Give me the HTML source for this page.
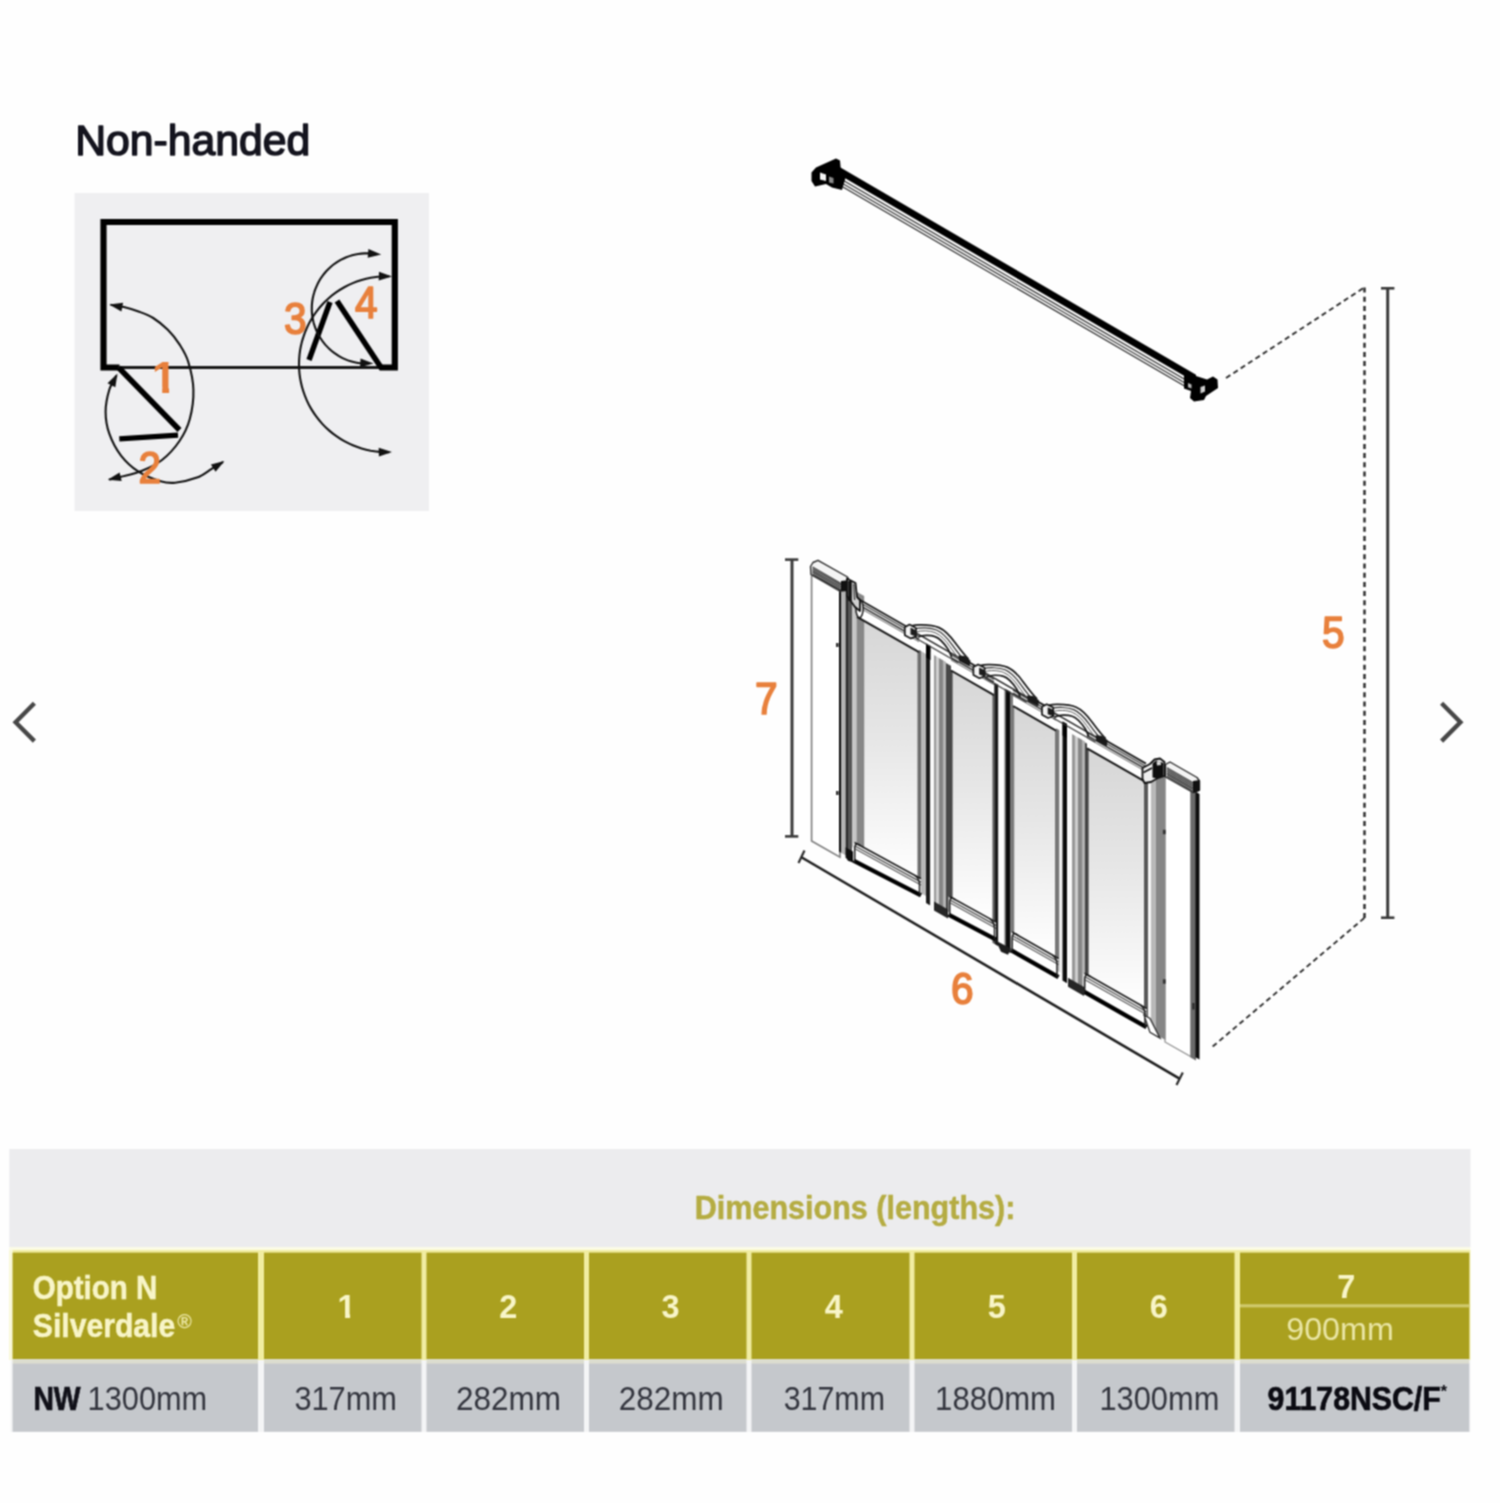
<!DOCTYPE html>
<html lang="en">
<head>
<meta charset="utf-8">
<title>Option N Silverdale - Non-handed dimensions</title>
<style>
html,body{margin:0;padding:0;background:#fefefe;}
body{width:1500px;height:1503px;overflow:hidden;position:relative;font-family:"Liberation Sans",sans-serif;}
svg{position:absolute;left:0;top:0;display:block;}
svg text{font-family:"Liberation Sans",sans-serif;}
</style>
</head>
<body>
<svg width="1500" height="1503" viewBox="0 0 1500 1503">
<defs>
<linearGradient id="glass" x1="0" y1="0" x2="0" y2="1">
<stop offset="0" stop-color="#d6d6d6"/>
<stop offset="0.45" stop-color="#e6e6e6"/>
<stop offset="0.85" stop-color="#f8f8f8"/>
<stop offset="1" stop-color="#ffffff"/>
</linearGradient>
<filter id="soft" filterUnits="userSpaceOnUse" x="0" y="0" width="1500" height="1503" color-interpolation-filters="sRGB"><feConvolveMatrix order="3" kernelMatrix="1 2 1 2 4 2 1 2 1" edgeMode="duplicate" preserveAlpha="true"/></filter>
</defs>
<g filter="url(#soft)">
<rect x="0" y="0" width="1500" height="1503" fill="#fefefe"/>
<!-- title -->
<text x="75.2" y="154.6" font-size="42.5" fill="#14141e" font-weight="normal" text-anchor="start" textLength="235.2" lengthAdjust="spacingAndGlyphs" stroke="#14141e" stroke-width="1.5" stroke-linejoin="round">Non-handed</text>
<!-- plan view -->
<rect x="74.5" y="193" width="354.5" height="318" fill="#efeff1"/>
<path d="M119.5,367.5 H103.5 V222 H394.8 V367.5 H380" fill="none" stroke="#000" stroke-width="6.2" stroke-linejoin="miter"/>
<line x1="118" y1="367.6" x2="381" y2="367.6" stroke="#181818" stroke-width="3" />
<line x1="118.8" y1="367.8" x2="179.5" y2="430" stroke="#000" stroke-width="5.6" />
<line x1="119.3" y1="438.8" x2="178" y2="435.2" stroke="#000" stroke-width="5.2" />
<line x1="309" y1="360" x2="330" y2="302" stroke="#000" stroke-width="5.4" />
<line x1="337" y1="301" x2="382" y2="369" stroke="#000" stroke-width="5.6" />
<path d="M110.5,304.8 C112.7,305.2 119.2,306 123.9,307.1 C128.6,308.2 133.6,309.7 138.5,311.5 C143.4,313.3 148.3,314.9 153.2,318 C158.1,321.1 163.4,325.4 167.8,329.8 C172.2,334.2 176.1,339 179.5,344.4 C182.9,349.8 186,354.4 188.3,362 C190.6,369.6 193.2,380.3 193.4,389.8 C193.7,399.3 192.1,410.5 189.8,419 C187.5,427.5 184.1,434.2 179.5,441 C174.9,447.8 168.3,455 162,460 C155.7,465 148.3,468.2 141.5,471 C134.7,473.8 126.4,475.4 121,476.8 C115.6,478.2 111,479.1 109,479.6" fill="none" stroke="#111" stroke-width="2.1"/>
<polygon points="109.3,304.6 123.1,302.8 121.4,311.4" fill="#111" stroke="none" stroke-width="1" />
<polygon points="107.8,479.8 119.6,472.4 121.7,481" fill="#111" stroke="none" stroke-width="1" />
<path d="M116.5,375.5 C115.3,377.9 111.1,383.8 109.3,389.8 C107.5,395.8 105.6,404.4 105.6,411.7 C105.6,419 106.7,426.4 109.3,433.7 C111.9,441 116.1,449.3 121,455.6 C125.9,461.9 131.9,467.4 138.5,471.7 C145.1,476 154.4,479.4 160.5,481.2 C166.6,483 169,483.3 175.1,482.7 C181.2,482.1 190.9,479.9 197,477.6 C203.1,475.3 207.4,471.4 211.7,468.8 C216,466.2 221.1,463.1 223,462" fill="none" stroke="#111" stroke-width="2.1"/>
<polygon points="117.5,373.5 115.3,387.2 107.5,383.2" fill="#111" stroke="none" stroke-width="1" />
<polygon points="224.4,461 215.6,471.8 210.9,464.4" fill="#111" stroke="none" stroke-width="1" />
<path d="M376.6,254.1 C375.6,254 372.5,253.5 370.5,253.4 C368.4,253.3 366.4,253.3 364.3,253.4 C362.3,253.5 360.2,253.7 358.2,254 C356.1,254.3 354.1,254.8 352.2,255.3 C350.2,255.9 348.2,256.6 346.3,257.3 C344.4,258.1 342.5,259 340.7,259.9 C338.9,260.9 337.2,262 335.5,263.2 C333.8,264.3 332.2,265.6 330.6,267 C329.1,268.3 327.6,269.8 326.2,271.3 C324.9,272.8 323.5,274.4 322.3,276.1 C321.1,277.7 320,279.5 319,281.2 C318,283 317.1,284.9 316.3,286.8 C315.5,288.6 314.7,290.6 314.2,292.5 C313.6,294.5 313.1,296.5 312.7,298.5 C312.3,300.6 312.1,302.6 311.9,304.6 C311.8,306.7 311.8,308.8 311.8,310.8 C311.9,312.9 312.1,314.9 312.4,316.9 C312.8,319 313.2,321 313.7,323 C314.3,325 314.9,326.9 315.7,328.8 C316.4,330.7 317.3,332.6 318.3,334.4 C319.2,336.2 320.3,338 321.5,339.7 C322.6,341.4 323.9,343 325.2,344.6 C326.6,346.1 328,347.6 329.5,349 C331,350.4 332.6,351.7 334.2,352.9 C335.9,354.1 337.6,355.3 339.4,356.3 C341.2,357.3 343,358.3 344.9,359.1 C346.8,359.9 348.7,360.6 350.7,361.2 C352.6,361.8 354.6,362.3 356.7,362.7 C358.7,363.1 360.7,363.4 362.8,363.5 C364.8,363.7 367.9,363.6 368.9,363.7" fill="none" stroke="#111" stroke-width="2.1"/>
<polygon points="381.2,254.4 367.7,257.8 368.4,249" fill="#111" stroke="none" stroke-width="1" />
<polygon points="373.5,363.4 360.1,367.2 360.5,358.4" fill="#111" stroke="none" stroke-width="1" />
<path d="M389.3,276.2 C387.7,276.3 383,276.2 379.9,276.5 C376.8,276.7 373.7,277.2 370.7,277.7 C367.6,278.3 364.5,279.1 361.6,280 C358.6,280.9 355.6,281.9 352.8,283.1 C349.9,284.3 347.1,285.7 344.3,287.2 C341.6,288.7 338.9,290.4 336.4,292.2 C333.8,294 331.4,295.9 329,298 C326.7,300 324.4,302.2 322.3,304.5 C320.2,306.8 318.2,309.2 316.4,311.7 C314.5,314.2 312.8,316.9 311.2,319.5 C309.6,322.2 308.1,325 306.9,327.8 C305.6,330.7 304.4,333.6 303.5,336.6 C302.5,339.5 301.6,342.6 301,345.6 C300.3,348.7 299.8,351.7 299.5,354.8 C299.2,357.9 299,361.1 299,364.2 C299,367.3 299.2,370.5 299.5,373.6 C299.8,376.7 300.3,379.7 301,382.8 C301.6,385.8 302.5,388.9 303.5,391.8 C304.4,394.8 305.6,397.7 306.9,400.6 C308.1,403.4 309.6,406.2 311.2,408.9 C312.8,411.5 314.5,414.2 316.4,416.7 C318.2,419.2 320.2,421.6 322.3,423.9 C324.4,426.2 326.7,428.4 329,430.4 C331.4,432.5 333.8,434.4 336.4,436.2 C338.9,438 341.6,439.7 344.3,441.2 C347.1,442.7 349.9,444.1 352.8,445.3 C355.6,446.5 358.6,447.5 361.6,448.4 C364.5,449.3 367.6,450.1 370.7,450.7 C373.7,451.2 376.8,451.7 379.9,451.9 C383,452.2 387.7,452.1 389.3,452.2" fill="none" stroke="#111" stroke-width="2.1"/>
<polygon points="392,276.6 378.7,280.6 379,271.8" fill="#111" stroke="none" stroke-width="1" />
<polygon points="392,452 378.9,456.6 378.7,447.8" fill="#111" stroke="none" stroke-width="1" />
<clipPath id="one1"><polygon points="148.8,347.8 169.1,347.8 169.1,394.8 162.2,394.8 162.2,387 148.8,387"/></clipPath>
<text x="151.8" y="392.8" font-size="45" fill="#e8803c" font-weight="bold" clip-path="url(#one1)">1</text>
<text x="138.4" y="483.3" font-size="44.6" fill="#e8803c" font-weight="normal" text-anchor="start" textLength="22.6" lengthAdjust="spacingAndGlyphs" stroke="#e8803c" stroke-width="1.7" stroke-linejoin="round">2</text>
<text x="283.9" y="333.8" font-size="44.6" fill="#e8803c" font-weight="normal" text-anchor="start" textLength="22.6" lengthAdjust="spacingAndGlyphs" stroke="#e8803c" stroke-width="1.7" stroke-linejoin="round">3</text>
<text x="354.9" y="318" font-size="44.6" fill="#e8803c" font-weight="normal" text-anchor="start" textLength="22.6" lengthAdjust="spacingAndGlyphs" stroke="#e8803c" stroke-width="1.7" stroke-linejoin="round">4</text>
<!-- rail -->
<line x1="843" y1="180.3" x2="1188" y2="381.3" stroke="#2a2a2a" stroke-width="1.2" />
<line x1="843" y1="183.7" x2="1188" y2="384.7" stroke="#333" stroke-width="1.2" />
<line x1="843" y1="187.1" x2="1188" y2="388.1" stroke="#2a2a2a" stroke-width="1.2" />
<polygon points="837,165.5 1196,374.7 1196,382.7 837,173.5" fill="#000" stroke="none" stroke-width="1" />
<polygon points="836,158.5 840,160.5 841,172 846,176 842,190 832,187.5 826,184 815,186.5 811.5,181 811.5,172.5 816,167.5" fill="#000" stroke="none" stroke-width="1" />
<polygon points="820,172.5 826,174.5 826,181 820,179.5" fill="#f4f4f4" stroke="none" stroke-width="1" />
<polygon points="829,176.5 833.5,178 833.5,183.5 829,182.5" fill="#8a8a8a" stroke="none" stroke-width="1" />
<polygon points="1184,370 1196,376 1207,379.5 1213,376.5 1217.5,379.5 1218,388 1206,396 1204,400 1194,401.5 1190,398 1191,391 1184,388.5" fill="#000" stroke="none" stroke-width="1" />
<polygon points="1188,383 1191.5,384.5 1191.5,388.5 1188,387.2" fill="#bbb" stroke="none" stroke-width="1" />
<polygon points="1200.5,387 1205,385.5 1205,391.5 1200.5,393.5" fill="#d0d0d0" stroke="none" stroke-width="1" />
<path d="M1226,378 L1364.3,287.5" fill="none" stroke="#2e2e2e" stroke-width="1.9" stroke-dasharray="5.2 3.6"/>
<path d="M1364.5,287.5 V918" fill="none" stroke="#2e2e2e" stroke-width="2.5" stroke-dasharray="5 4.2"/>
<path d="M1364.3,918 L1211,1048" fill="none" stroke="#2e2e2e" stroke-width="1.9" stroke-dasharray="5.2 3.6"/>
<line x1="1387.7" y1="288" x2="1387.7" y2="918" stroke="#3a3a3a" stroke-width="3" />
<line x1="1381" y1="288.3" x2="1394.4" y2="288.3" stroke="#3a3a3a" stroke-width="2.6" />
<line x1="1381" y1="917.7" x2="1394.4" y2="917.7" stroke="#3a3a3a" stroke-width="2.6" />
<text x="1321.9" y="648.3" font-size="44.6" fill="#e8803c" font-weight="normal" text-anchor="start" textLength="22.6" lengthAdjust="spacingAndGlyphs" stroke="#e8803c" stroke-width="1.7" stroke-linejoin="round">5</text>
<!-- shower door panel -->
<polygon points="811.6,573.5 840,589.7 840,857.1 811.6,841" fill="#fff" stroke="#7d7d7d" stroke-width="1.6" />
<polygon points="1165,776.1 1191,791 1191,1056.7 1165,1041.9" fill="#fff" stroke="#8a8a8a" stroke-width="1.2" />
<polygon points="1190.5,788.7 1196,791.9 1196,1060.5 1190.5,1057.4" fill="#6a6a6a" stroke="none" stroke-width="1" />
<polygon points="1195.5,791.6 1199.5,793.9 1199.5,1059.5 1195.5,1057.2" fill="#0c0c0c" stroke="none" stroke-width="1" />
<polygon points="864,620.8 918.5,651.9 918.5,880.4 864,849.4" fill="url(#glass)"/>
<polygon points="952,671.1 993.5,694.8 993.5,923 952,899.4" fill="url(#glass)"/>
<polygon points="1013.5,706.3 1055.5,730.3 1055.5,958.3 1013.5,934.4" fill="url(#glass)"/>
<polygon points="1088,748.9 1144.5,781.2 1144.5,1008.9 1088,976.7" fill="url(#glass)"/>
<polygon points="839,581.7 841.4,583 841.4,852.9 839,851.6" fill="#0a0a0a" stroke="none" stroke-width="1" />
<polygon points="841.4,583 845.6,585.4 845.6,855.3 841.4,852.9" fill="#b4b4b4" stroke="none" stroke-width="1" />
<polygon points="845.6,585.4 848,586.8 848,856.7 845.6,855.3" fill="#2a2a2a" stroke="none" stroke-width="1" />
<polygon points="848,586.8 852,589.1 852,859 848,856.7" fill="#555" stroke="none" stroke-width="1" />
<polygon points="852,589.1 856.5,591.7 856.5,849.5 852,847" fill="#c6c6c6" stroke="none" stroke-width="1" />
<polygon points="856.5,591.7 864.2,596.1 864.2,851.9 856.5,847.5" fill="#878787" stroke="none" stroke-width="1" />
<polygon points="917.5,649.1 921,651.1 921,893.2 917.5,891.2" fill="#6c6c6c" stroke="none" stroke-width="1" />
<polygon points="921,651.1 926,653.9 926,896 921,893.2" fill="#b8b8b8" stroke="none" stroke-width="1" />
<polygon points="926,643.4 930.3,645.9 930.3,905.5 926,903" fill="#1c1c1c" stroke="none" stroke-width="1" />
<polygon points="930.3,651.9 934,654 934,909.6 930.3,907.5" fill="#fafafa" stroke="none" stroke-width="1" />
<polygon points="934,655 936.5,656.4 936.5,911 934,909.6" fill="#999" stroke="none" stroke-width="1" />
<polygon points="936.5,656.4 939,657.9 939,912.4 936.5,911" fill="#cfcfcf" stroke="none" stroke-width="1" />
<polygon points="939,657.9 943,660.2 943,914.7 939,912.4" fill="#858585" stroke="none" stroke-width="1" />
<polygon points="943,660.2 946,661.9 946,916.4 943,914.7" fill="#b4b4b4" stroke="none" stroke-width="1" />
<polygon points="946,662.9 952.6,666.7 952.6,914.2 946,910.4" fill="#474747" stroke="none" stroke-width="1" />
<polygon points="992.5,681.5 995,682.9 995,944.3 992.5,942.8" fill="#555" stroke="none" stroke-width="1" />
<polygon points="995,682.9 998.4,684.8 998.4,946.2 995,944.3" fill="#1a1a1a" stroke="none" stroke-width="1" />
<polygon points="998.4,684.8 1004.5,688.3 1004.5,949.7 998.4,946.2" fill="#fdfdfd" stroke="none" stroke-width="1" />
<polygon points="1004.5,688.3 1006,689.2 1006,950.5 1004.5,949.7" fill="#666" stroke="none" stroke-width="1" />
<polygon points="1006,689.2 1010.6,691.8 1010.6,953.1 1006,950.5" fill="#0c0c0c" stroke="none" stroke-width="1" />
<polygon points="1010.6,691.8 1014.2,693.9 1014.2,949.2 1010.6,947.1" fill="#7a7a7a" stroke="none" stroke-width="1" />
<polygon points="1055,727.7 1059.5,730.3 1059.5,971.9 1055,969.4" fill="#777" stroke="none" stroke-width="1" />
<polygon points="1059.5,730.3 1062.5,732 1062.5,973.6 1059.5,971.9" fill="#f4f4f4" stroke="none" stroke-width="1" />
<polygon points="1062.5,721.5 1067,724.1 1067,983.2 1062.5,980.6" fill="#0c0c0c" stroke="none" stroke-width="1" />
<polygon points="1067,730.1 1072,732.9 1072,988 1067,985.2" fill="#fafafa" stroke="none" stroke-width="1" />
<polygon points="1072,733.9 1075,735.7 1075,989.7 1072,988" fill="#989898" stroke="none" stroke-width="1" />
<polygon points="1075,735.7 1078,737.4 1078,991.4 1075,989.7" fill="#cdcdcd" stroke="none" stroke-width="1" />
<polygon points="1078,737.4 1082,739.7 1082,993.7 1078,991.4" fill="#868686" stroke="none" stroke-width="1" />
<polygon points="1082,739.7 1085,741.4 1085,995.4 1082,993.7" fill="#b2b2b2" stroke="none" stroke-width="1" />
<polygon points="1085,742.4 1088.6,744.4 1088.6,991.5 1085,989.4" fill="#444" stroke="none" stroke-width="1" />
<polygon points="1144,764.1 1148,766.4 1148,1025.2 1144,1023" fill="#585858" stroke="none" stroke-width="1" />
<polygon points="1148,766.4 1151,768.1 1151,1028.9 1148,1027.2" fill="#f6f6f6" stroke="none" stroke-width="1" />
<polygon points="1151,768.1 1156,771 1156,1034.8 1151,1031.9" fill="#b8b8b8" stroke="none" stroke-width="1" />
<polygon points="1156,771 1165.4,776.4 1165.4,1040.1 1156,1034.8" fill="#868686" stroke="none" stroke-width="1" />
<polygon points="857,598.3 919,633.7 919,652.2 857,616.8" fill="#fff" stroke="none" stroke-width="1" />
<line x1="857" y1="598.3" x2="919" y2="633.7" stroke="#1a1a1a" stroke-width="1.8" />
<line x1="857" y1="601.1" x2="919" y2="636.5" stroke="#3a3a3a" stroke-width="1.2" />
<line x1="857" y1="603.9" x2="919" y2="639.3" stroke="#2a2a2a" stroke-width="1.5" />
<line x1="857" y1="606.3" x2="919" y2="641.7" stroke="#666" stroke-width="1" />
<line x1="857" y1="616.8" x2="919" y2="652.2" stroke="#161616" stroke-width="2" />
<polygon points="951,652 994,676.6 994,695.1 951,670.5" fill="#fff" stroke="none" stroke-width="1" />
<line x1="951" y1="652" x2="994" y2="676.6" stroke="#1a1a1a" stroke-width="1.8" />
<line x1="951" y1="654.8" x2="994" y2="679.4" stroke="#3a3a3a" stroke-width="1.2" />
<line x1="951" y1="657.6" x2="994" y2="682.2" stroke="#2a2a2a" stroke-width="1.5" />
<line x1="951" y1="660" x2="994" y2="684.6" stroke="#666" stroke-width="1" />
<line x1="951" y1="670.5" x2="994" y2="695.1" stroke="#161616" stroke-width="2" />
<polygon points="1013,687.5 1056,712.1 1056,730.6 1013,706" fill="#fff" stroke="none" stroke-width="1" />
<line x1="1013" y1="687.5" x2="1056" y2="712.1" stroke="#1a1a1a" stroke-width="1.8" />
<line x1="1013" y1="690.3" x2="1056" y2="714.9" stroke="#3a3a3a" stroke-width="1.2" />
<line x1="1013" y1="693.1" x2="1056" y2="717.7" stroke="#2a2a2a" stroke-width="1.5" />
<line x1="1013" y1="695.5" x2="1056" y2="720.1" stroke="#666" stroke-width="1" />
<line x1="1013" y1="706" x2="1056" y2="730.6" stroke="#161616" stroke-width="2" />
<polygon points="1087,729.8 1146,763.6 1146,782.1 1087,748.3" fill="#fff" stroke="none" stroke-width="1" />
<line x1="1087" y1="729.8" x2="1146" y2="763.6" stroke="#1a1a1a" stroke-width="1.8" />
<line x1="1087" y1="732.6" x2="1146" y2="766.4" stroke="#3a3a3a" stroke-width="1.2" />
<line x1="1087" y1="735.4" x2="1146" y2="769.2" stroke="#2a2a2a" stroke-width="1.5" />
<line x1="1087" y1="737.8" x2="1146" y2="771.6" stroke="#666" stroke-width="1" />
<line x1="1087" y1="748.3" x2="1146" y2="782.1" stroke="#161616" stroke-width="2" />
<ellipse cx="859.5" cy="608.7" rx="3.6" ry="9" fill="#fff" stroke="#1a1a1a" stroke-width="1.5"/>
<polygon points="853.5,842.4 921,879.3 921,896.4 853.5,861.6" fill="#fff" stroke="none" stroke-width="1" />
<line x1="854.5" y1="842.5" x2="921" y2="878.8" stroke="#1c1c1c" stroke-width="1.6" />
<line x1="855.5" y1="846.3" x2="921" y2="882.1" stroke="#444" stroke-width="1.2" />
<line x1="855.5" y1="849.1" x2="921" y2="884.9" stroke="#555" stroke-width="1.1" />
<line x1="853.5" y1="860.6" x2="921" y2="895.4" stroke="#000" stroke-width="4.4" />
<path d="M915,875.5 Q919.5,879 919.5,884.5 V895.6" fill="none" stroke="#1c1c1c" stroke-width="1.5"/>
<path d="M860.5,845.7 Q854.7,841.1 854.7,849.1 V862.2" fill="none" stroke="#1c1c1c" stroke-width="1.5"/>
<polygon points="948.5,896.4 996,922.6 996,940.6 948.5,915.6" fill="#fff" stroke="none" stroke-width="1" />
<line x1="949.5" y1="896.5" x2="996" y2="922.1" stroke="#1c1c1c" stroke-width="1.6" />
<line x1="950.5" y1="900.3" x2="996" y2="925.4" stroke="#444" stroke-width="1.2" />
<line x1="950.5" y1="903.1" x2="996" y2="928.2" stroke="#555" stroke-width="1.1" />
<line x1="948.5" y1="914.6" x2="996" y2="939.6" stroke="#000" stroke-width="4.4" />
<path d="M990,918.8 Q994.5,922.3 994.5,927.8 V939.8" fill="none" stroke="#1c1c1c" stroke-width="1.5"/>
<path d="M955.5,899.8 Q949.7,895.1 949.7,903.1 V916.3" fill="none" stroke="#1c1c1c" stroke-width="1.5"/>
<polygon points="1011,932 1058.5,959 1058.5,978.2 1011,951.2" fill="#fff" stroke="none" stroke-width="1" />
<line x1="1012" y1="932" x2="1058.5" y2="958.5" stroke="#1c1c1c" stroke-width="1.6" />
<line x1="1013" y1="935.9" x2="1058.5" y2="961.8" stroke="#444" stroke-width="1.2" />
<line x1="1013" y1="938.7" x2="1058.5" y2="964.6" stroke="#555" stroke-width="1.1" />
<line x1="1011" y1="950.2" x2="1058.5" y2="977.2" stroke="#000" stroke-width="4.4" />
<path d="M1052.5,955.1 Q1057,958.6 1057,964.1 V977.3" fill="none" stroke="#1c1c1c" stroke-width="1.5"/>
<path d="M1018,935.4 Q1012.2,930.6 1012.2,938.6 V951.8" fill="none" stroke="#1c1c1c" stroke-width="1.5"/>
<polygon points="1083.5,973.2 1146.5,1009 1146.5,1028.2 1083.5,992.4" fill="#fff" stroke="none" stroke-width="1" />
<line x1="1084.5" y1="973.2" x2="1146.5" y2="1008.5" stroke="#1c1c1c" stroke-width="1.6" />
<line x1="1085.5" y1="977.1" x2="1146.5" y2="1011.8" stroke="#444" stroke-width="1.2" />
<line x1="1085.5" y1="979.9" x2="1146.5" y2="1014.6" stroke="#555" stroke-width="1.1" />
<line x1="1083.5" y1="991.4" x2="1146.5" y2="1027.2" stroke="#000" stroke-width="4.4" />
<path d="M1140.5,1005.1 Q1145,1008.6 1145,1014.1 V1027.3" fill="none" stroke="#1c1c1c" stroke-width="1.5"/>
<path d="M1090.5,976.7 Q1084.7,971.9 1084.7,979.9 V993.1" fill="none" stroke="#1c1c1c" stroke-width="1.5"/>
<polygon points="845.6,847.3 853,851.5 853,862.5 848,860.7 845.6,857.3" fill="#0e0e0e" stroke="none" stroke-width="1" />
<polygon points="934,901.6 948,909.5 948,918.5 934,910.6" fill="#262626" stroke="none" stroke-width="1" />
<polygon points="1068,977.8 1084,986.9 1084,995.9 1068,986.8" fill="#262626" stroke="none" stroke-width="1" />
<polygon points="996,940.8 1011,948.4 1008,954.7 1001,951.7" fill="#1c1c1c" stroke="none" stroke-width="1" />
<polygon points="1144,1015 1150,1018.4 1160,1038.1 1150,1032.4" fill="#fff" stroke="#2a2a2a" stroke-width="1.3" />
<polygon points="926,643.4 930.5,646 930.5,660 926,657.4" fill="#000" stroke="none" stroke-width="1" />
<polygon points="1062.5,721.5 1067,724.1 1067,738.1 1062.5,735.5" fill="#000" stroke="none" stroke-width="1" />
<polygon points="810.5,566.5 813,562.5 818,560.3 847.5,577 849.5,581 849.5,590 841,590.5 811,574.5" fill="#f4f4f4" stroke="#2a2a2a" stroke-width="1.4" stroke-linejoin="round"/>
<line x1="812.5" y1="567" x2="841" y2="583.4" stroke="#333" stroke-width="1.2" />
<line x1="812.5" y1="568.7" x2="841" y2="585.1" stroke="#333" stroke-width="1.2" />
<line x1="812.5" y1="570.4" x2="841" y2="586.8" stroke="#333" stroke-width="1.2" />
<line x1="812.5" y1="572.1" x2="841" y2="588.5" stroke="#333" stroke-width="1.2" />
<line x1="812.5" y1="573.8" x2="841" y2="590.2" stroke="#333" stroke-width="1.2" />
<line x1="812.5" y1="575.5" x2="841" y2="591.9" stroke="#333" stroke-width="1.2" />
<polygon points="841,581 849.5,580 849.5,591 841,591.5" fill="#111" stroke="none" stroke-width="1" />
<polygon points="847,578.5 855.5,583 857,597 860,600 860,611 855,607 850,600 847,596" fill="#cfcfcf" stroke="#111" stroke-width="1.8" stroke-linejoin="round"/>
<line x1="850" y1="581" x2="850" y2="601" stroke="#111" stroke-width="3.6" />
<line x1="853.6" y1="584" x2="854.6" y2="600" stroke="#333" stroke-width="1.2" />
<polygon points="1165.5,764.5 1170,762 1197,777.5 1199.5,781 1199.5,790 1193,792.5 1165.5,777" fill="#f4f4f4" stroke="#2a2a2a" stroke-width="1.4" stroke-linejoin="round"/>
<line x1="1167" y1="767.8" x2="1193" y2="782.8" stroke="#333" stroke-width="1.2" />
<line x1="1167" y1="769.5" x2="1193" y2="784.5" stroke="#333" stroke-width="1.2" />
<line x1="1167" y1="771.2" x2="1193" y2="786.2" stroke="#333" stroke-width="1.2" />
<line x1="1167" y1="772.9" x2="1193" y2="787.9" stroke="#333" stroke-width="1.2" />
<line x1="1167" y1="774.6" x2="1193" y2="789.6" stroke="#333" stroke-width="1.2" />
<line x1="1167" y1="776.3" x2="1193" y2="791.3" stroke="#333" stroke-width="1.2" />
<polygon points="1193,781 1199.5,780 1199.5,791 1193,793" fill="#111" stroke="none" stroke-width="1" />
<polygon points="1142.5,768 1150,764 1154.5,759.5 1160,758.5 1164.5,762 1164.5,776 1157,778.5 1151,782 1144.5,783 1142.5,779" fill="#f0f0f0" stroke="#111" stroke-width="1.8" stroke-linejoin="round"/>
<polygon points="1152.5,763.5 1156,760.5 1163.5,763 1163.5,776 1157,778.5 1152.5,777.5" fill="#0e0e0e" stroke="none" stroke-width="1" />
<polygon points="1156.5,761.5 1160.5,761 1161,765 1157,765.5" fill="#d8d8d8" stroke="none" stroke-width="1" />
<line x1="1143.5" y1="772.5" x2="1152" y2="768" stroke="#111" stroke-width="1.6" />
<path d="M907,628.6 C909.5,625.6 914,624.6 921,624.8 C927,624.9 934,625.4 939,627.6 C946,630.6 951,637.1 955,642.6 C959.5,648.6 963.5,654.1 968.5,659.1 L968.5,663.1 L907,628.6 Z" fill="#fff" stroke="none"/>
<path d="M916,632.8 L966,661.6" stroke="#222" stroke-width="1.4" fill="none"/>
<path d="M916,638.3 L958,662.4" stroke="#333" stroke-width="1.2" fill="none"/>
<path d="M907,628.6 C909.5,625.6 914,624.6 921,624.8 C927,624.9 934,625.4 939,627.6 C946,630.6 951,637.1 955,642.6 C959.5,648.6 963.5,654.1 968.5,659.1" fill="none" stroke="#161616" stroke-width="1.7"/>
<path d="M914.5,629 C920,627.2 931,627.6 936.5,630 C943.5,633 948,639 952,644.6 C956,650.2 960.5,656.2 965.5,661.2" fill="none" stroke="#2a2a2a" stroke-width="1.2"/>
<path d="M916,632 C921,630.2 930,630.4 935,632.6 C941.5,635.4 946,641.1 949.5,646.1 C953,651.1 957,656.6 961.5,661.6" fill="none" stroke="#555" stroke-width="1.0"/>
<path d="M918,637.1 C922,635.2 930,634.8 935,636.6 C941,638.6 945,644.6 948,649.1 C949.5,651.6 950.5,654.1 951.5,657.1" fill="none" stroke="#161616" stroke-width="1.7"/>
<path d="M904.8,627.2 L909.5,624.6 L916,628 L916,636.6 L910.8,638.4 L904.8,635.2 Z" fill="#f4f4f4" stroke="#161616" stroke-width="1.7" stroke-linejoin="round"/>
<path d="M910.5,627.6 L916,630.2 L916,636.6 L910.5,634.6 Z" fill="#1c1c1c"/>
<path d="M958.5,655.6 L964.5,656.1 L970.5,660.6 L969.5,666.6 L959,661.1 Z" fill="#1a1a1a"/>
<path d="M975.6,668.4 C978.1,665.4 982.6,664.4 989.6,664.6 C995.6,664.7 1002.6,665.2 1007.6,667.4 C1014.6,670.4 1019.6,676.9 1023.6,682.4 C1028.1,688.4 1032.1,693.9 1037.1,698.9 L1037.1,702.9 L975.6,668.4 Z" fill="#fff" stroke="none"/>
<path d="M984.6,672.6 L1034.6,701.4" stroke="#222" stroke-width="1.4" fill="none"/>
<path d="M984.6,678.1 L1026.6,702.2" stroke="#333" stroke-width="1.2" fill="none"/>
<path d="M975.6,668.4 C978.1,665.4 982.6,664.4 989.6,664.6 C995.6,664.7 1002.6,665.2 1007.6,667.4 C1014.6,670.4 1019.6,676.9 1023.6,682.4 C1028.1,688.4 1032.1,693.9 1037.1,698.9" fill="none" stroke="#161616" stroke-width="1.7"/>
<path d="M983.1,668.8 C988.6,667 999.6,667.4 1005.1,669.8 C1012.1,672.8 1016.6,678.8 1020.6,684.4 C1024.6,690 1029.1,696 1034.1,701" fill="none" stroke="#2a2a2a" stroke-width="1.2"/>
<path d="M984.6,671.8 C989.6,670 998.6,670.2 1003.6,672.4 C1010.1,675.2 1014.6,680.9 1018.1,685.9 C1021.6,690.9 1025.6,696.4 1030.1,701.4" fill="none" stroke="#555" stroke-width="1.0"/>
<path d="M986.6,676.9 C990.6,675 998.6,674.6 1003.6,676.4 C1009.6,678.4 1013.6,684.4 1016.6,688.9 C1018.1,691.4 1019.1,693.9 1020.1,696.9" fill="none" stroke="#161616" stroke-width="1.7"/>
<path d="M973.4,667 L978.1,664.4 L984.6,667.8 L984.6,676.4 L979.4,678.2 L973.4,675 Z" fill="#f4f4f4" stroke="#161616" stroke-width="1.7" stroke-linejoin="round"/>
<path d="M979.1,667.4 L984.6,670 L984.6,676.4 L979.1,674.4 Z" fill="#1c1c1c"/>
<path d="M1027.1,695.4 L1033.1,695.9 L1039.1,700.4 L1038.1,706.4 L1027.6,700.9 Z" fill="#1a1a1a"/>
<path d="M1044.2,708.2 C1046.7,705.2 1051.2,704.2 1058.2,704.4 C1064.2,704.5 1071.2,705 1076.2,707.2 C1083.2,710.2 1088.2,716.7 1092.2,722.2 C1096.7,728.2 1100.7,733.7 1105.7,738.7 L1105.7,742.7 L1044.2,708.2 Z" fill="#fff" stroke="none"/>
<path d="M1053.2,712.4 L1103.2,741.2" stroke="#222" stroke-width="1.4" fill="none"/>
<path d="M1053.2,717.9 L1095.2,742" stroke="#333" stroke-width="1.2" fill="none"/>
<path d="M1044.2,708.2 C1046.7,705.2 1051.2,704.2 1058.2,704.4 C1064.2,704.5 1071.2,705 1076.2,707.2 C1083.2,710.2 1088.2,716.7 1092.2,722.2 C1096.7,728.2 1100.7,733.7 1105.7,738.7" fill="none" stroke="#161616" stroke-width="1.7"/>
<path d="M1051.7,708.6 C1057.2,706.8 1068.2,707.2 1073.7,709.6 C1080.7,712.6 1085.2,718.6 1089.2,724.2 C1093.2,729.8 1097.7,735.8 1102.7,740.8" fill="none" stroke="#2a2a2a" stroke-width="1.2"/>
<path d="M1053.2,711.6 C1058.2,709.8 1067.2,710 1072.2,712.2 C1078.7,715 1083.2,720.7 1086.7,725.7 C1090.2,730.7 1094.2,736.2 1098.7,741.2" fill="none" stroke="#555" stroke-width="1.0"/>
<path d="M1055.2,716.7 C1059.2,714.8 1067.2,714.4 1072.2,716.2 C1078.2,718.2 1082.2,724.2 1085.2,728.7 C1086.7,731.2 1087.7,733.7 1088.7,736.7" fill="none" stroke="#161616" stroke-width="1.7"/>
<path d="M1042,706.8 L1046.7,704.2 L1053.2,707.6 L1053.2,716.2 L1048,718 L1042,714.8 Z" fill="#f4f4f4" stroke="#161616" stroke-width="1.7" stroke-linejoin="round"/>
<path d="M1047.7,707.2 L1053.2,709.8 L1053.2,716.2 L1047.7,714.2 Z" fill="#1c1c1c"/>
<path d="M1095.7,735.2 L1101.7,735.7 L1107.7,740.2 L1106.7,746.2 L1096.2,740.7 Z" fill="#1a1a1a"/>
<rect x="836" y="643" width="2.6" height="4" fill="#333"/>
<rect x="836" y="791" width="2.6" height="4" fill="#333"/>
<rect x="1162.9" y="829.8" width="2.8" height="4.4" fill="#333"/>
<rect x="1162.9" y="979.3" width="2.8" height="4.4" fill="#333"/>
<line x1="1193.4" y1="1003" x2="1193.4" y2="1009.5" stroke="#222" stroke-width="2" />
<line x1="792" y1="559.5" x2="792" y2="836.5" stroke="#3a3a3a" stroke-width="3" />
<line x1="785" y1="559.6" x2="798.3" y2="559.6" stroke="#3a3a3a" stroke-width="2.6" />
<line x1="785" y1="836.4" x2="798.3" y2="836.4" stroke="#3a3a3a" stroke-width="2.6" />
<text x="755.1" y="713.8" font-size="44.6" fill="#e8803c" font-weight="normal" text-anchor="start" textLength="22.6" lengthAdjust="spacingAndGlyphs" stroke="#e8803c" stroke-width="1.7" stroke-linejoin="round">7</text>
<line x1="801" y1="857" x2="1179.5" y2="1078.6" stroke="#1e1e1e" stroke-width="2.6" />
<line x1="798.5" y1="863" x2="804.5" y2="850.5" stroke="#2a2a2a" stroke-width="2.2" />
<line x1="1176.5" y1="1085" x2="1182.8" y2="1072.5" stroke="#2a2a2a" stroke-width="2.2" />
<text x="950.9" y="1004.4" font-size="44.6" fill="#e8803c" font-weight="normal" text-anchor="start" textLength="22.6" lengthAdjust="spacingAndGlyphs" stroke="#e8803c" stroke-width="1.7" stroke-linejoin="round">6</text>
<!-- carousel arrows -->
<path d="M34.4,703.3 L15.6,722.2 L34.4,741.1" fill="none" stroke="#474747" stroke-width="4.4" stroke-linejoin="miter"/>
<path d="M1441.6,703.3 L1460.4,722.2 L1441.6,741.1" fill="none" stroke="#474747" stroke-width="4.4" stroke-linejoin="miter"/>
<!-- dimensions table -->
<rect x="9.3" y="1149" width="1461.2" height="98.2" fill="#ececee"/>
<text x="694.8" y="1219.4" font-size="33.5" fill="#b5ac42" font-weight="bold" text-anchor="start" textLength="320.6" lengthAdjust="spacingAndGlyphs" stroke="#b5ac42" stroke-width="0.5">Dimensions (lengths):</text>
<rect x="9.3" y="1247" width="1461.2" height="6" fill="#fbfbe6"/>
<rect x="9.3" y="1250" width="1461" height="110" fill="#f1eda2"/>
<rect x="9.3" y="1250" width="3.3" height="110" fill="#fafae0"/>
<rect x="10.5" y="1360" width="1460" height="72" fill="#f4f5f6"/>
<rect x="12.6" y="1252.6" width="245.4" height="106.4" fill="#aaa01f"/>
<rect x="12.6" y="1359" width="245.4" height="5" fill="#dcddcf"/>
<rect x="12.6" y="1363.6" width="245.4" height="68.2" fill="#c5c8cc"/>
<rect x="264" y="1252.6" width="157.5" height="106.4" fill="#aaa01f"/>
<rect x="264" y="1359" width="157.5" height="5" fill="#dcddcf"/>
<rect x="264" y="1363.6" width="157.5" height="68.2" fill="#c5c8cc"/>
<rect x="426.5" y="1252.6" width="157.5" height="106.4" fill="#aaa01f"/>
<rect x="426.5" y="1359" width="157.5" height="5" fill="#dcddcf"/>
<rect x="426.5" y="1363.6" width="157.5" height="68.2" fill="#c5c8cc"/>
<rect x="589" y="1252.6" width="157.5" height="106.4" fill="#aaa01f"/>
<rect x="589" y="1359" width="157.5" height="5" fill="#dcddcf"/>
<rect x="589" y="1363.6" width="157.5" height="68.2" fill="#c5c8cc"/>
<rect x="751.5" y="1252.6" width="158" height="106.4" fill="#aaa01f"/>
<rect x="751.5" y="1359" width="158" height="5" fill="#dcddcf"/>
<rect x="751.5" y="1363.6" width="158" height="68.2" fill="#c5c8cc"/>
<rect x="914.5" y="1252.6" width="157.5" height="106.4" fill="#aaa01f"/>
<rect x="914.5" y="1359" width="157.5" height="5" fill="#dcddcf"/>
<rect x="914.5" y="1363.6" width="157.5" height="68.2" fill="#c5c8cc"/>
<rect x="1077" y="1252.6" width="157.5" height="106.4" fill="#aaa01f"/>
<rect x="1077" y="1359" width="157.5" height="5" fill="#dcddcf"/>
<rect x="1077" y="1363.6" width="157.5" height="68.2" fill="#c5c8cc"/>
<rect x="1240" y="1252.6" width="229.3" height="106.4" fill="#aaa01f"/>
<rect x="1240" y="1359" width="229.3" height="5" fill="#dcddcf"/>
<rect x="1240" y="1363.6" width="229.3" height="68.2" fill="#c5c8cc"/>
<rect x="1240" y="1304.2" width="229.5" height="3.2" fill="#cfc96c"/>
<text x="32.8" y="1299.4" font-size="33.5" fill="#f8f5c8" font-weight="bold" text-anchor="start" textLength="124.6" lengthAdjust="spacingAndGlyphs" stroke="#f8f5c8" stroke-width="0.5">Option N</text>
<text x="32.8" y="1337" font-size="33.5" fill="#f8f5c8" font-weight="bold" text-anchor="start" textLength="142.4" lengthAdjust="spacingAndGlyphs" stroke="#f8f5c8" stroke-width="0.5">Silverdale</text>
<text x="177.3" y="1328" font-size="20" fill="#ebe7a6" font-weight="bold" text-anchor="start" textLength="14.6" lengthAdjust="spacingAndGlyphs" >®</text>
<clipPath id="one2"><polygon points="334.6,1285.5 350.1,1285.5 350.1,1320 345.1,1320 345.1,1313.8 334.6,1313.8"/></clipPath>
<text x="337.6" y="1318" font-size="32.5" fill="#f8f5c8" font-weight="bold" clip-path="url(#one2)">1</text>
<text x="508.4" y="1318" font-size="32.5" fill="#f8f5c8" font-weight="bold" text-anchor="middle" >2</text>
<text x="670.5" y="1318" font-size="32.5" fill="#f8f5c8" font-weight="bold" text-anchor="middle" >3</text>
<text x="833.9" y="1318" font-size="32.5" fill="#f8f5c8" font-weight="bold" text-anchor="middle" >4</text>
<text x="996.7" y="1318" font-size="32.5" fill="#f8f5c8" font-weight="bold" text-anchor="middle" >5</text>
<text x="1158.8" y="1318" font-size="32.5" fill="#f8f5c8" font-weight="bold" text-anchor="middle" >6</text>
<text x="1346.4" y="1298" font-size="32.5" fill="#f8f5c8" font-weight="bold" text-anchor="middle" >7</text>
<text x="1286.2" y="1339.6" font-size="32" fill="#e9e5a4" font-weight="normal" text-anchor="start" textLength="107.6" lengthAdjust="spacingAndGlyphs" >900mm</text>
<text x="33.4" y="1409.8" font-size="33.5" fill="#101018" font-weight="bold" text-anchor="start" textLength="47.2" lengthAdjust="spacingAndGlyphs" stroke="#101018" stroke-width="0.7">NW</text>
<text x="87.6" y="1409.8" font-size="33.5" fill="#33353e" font-weight="normal" text-anchor="start" textLength="119.6" lengthAdjust="spacingAndGlyphs" >1300mm</text>
<text x="294.4" y="1409.8" font-size="33.5" fill="#33353e" font-weight="normal" text-anchor="start" textLength="102.6" lengthAdjust="spacingAndGlyphs" >317mm</text>
<text x="456.1" y="1409.8" font-size="33.5" fill="#33353e" font-weight="normal" text-anchor="start" textLength="104.9" lengthAdjust="spacingAndGlyphs" >282mm</text>
<text x="618.7" y="1409.8" font-size="33.5" fill="#33353e" font-weight="normal" text-anchor="start" textLength="105" lengthAdjust="spacingAndGlyphs" >282mm</text>
<text x="783.7" y="1409.8" font-size="33.5" fill="#33353e" font-weight="normal" text-anchor="start" textLength="101.3" lengthAdjust="spacingAndGlyphs" >317mm</text>
<text x="935.1" y="1409.8" font-size="33.5" fill="#33353e" font-weight="normal" text-anchor="start" textLength="120.9" lengthAdjust="spacingAndGlyphs" >1880mm</text>
<text x="1099.5" y="1409.8" font-size="33.5" fill="#33353e" font-weight="normal" text-anchor="start" textLength="119.8" lengthAdjust="spacingAndGlyphs" >1300mm</text>
<text x="1267.6" y="1410" font-size="33.5" fill="#0b0b12" font-weight="bold" text-anchor="start" textLength="173" lengthAdjust="spacingAndGlyphs" stroke="#0b0b12" stroke-width="0.7">91178NSC/F</text>
<text x="1440.6" y="1397" font-size="17" fill="#0d0d14" font-weight="bold" text-anchor="start" >*</text>
</g>
</svg>
</body>
</html>
